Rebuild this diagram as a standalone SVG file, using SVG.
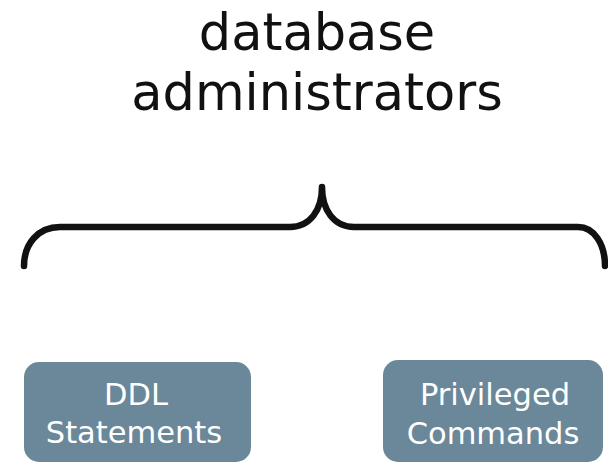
<svg xmlns="http://www.w3.org/2000/svg" width="608" height="464" viewBox="0 0 608 464">
<style>
.title{font-family:"DejaVu Sans","Liberation Sans",sans-serif;font-size:51px;fill:#111;text-anchor:middle}
.box{fill:#6b879a}
.lbl{font-family:"DejaVu Sans","Liberation Sans",sans-serif;font-size:30.5px;fill:#fff;text-anchor:middle}
.brace{fill:none;stroke:#111;stroke-width:6.5;stroke-linecap:round;stroke-linejoin:round}
</style>
<rect width="608" height="464" fill="#fff"/>
<g id="title">
<text class="title" x="317" y="50">database</text>
<text class="title" x="317" y="110">administrators</text>
</g>
<g id="connectors">
<path class="brace" d="M24,266 C24,244 38,227 60,227 L290,227 C310,227 322,210 322,187 C322,210 334,227 354,227 L578,227 C594,227 605,244 605,266"/>
</g>
<g id="ddl">
<rect class="box" x="24" y="362" width="227" height="100" rx="15"/>
<text class="lbl" x="136" y="405">DDL</text>
<text class="lbl" x="134" y="443">Statements</text>
</g>
<g id="priv">
<rect class="box" x="383" y="360" width="220" height="102" rx="15"/>
<text class="lbl" x="495" y="405">Privileged</text>
<text class="lbl" x="493" y="444">Commands</text>
</g>
</svg>
